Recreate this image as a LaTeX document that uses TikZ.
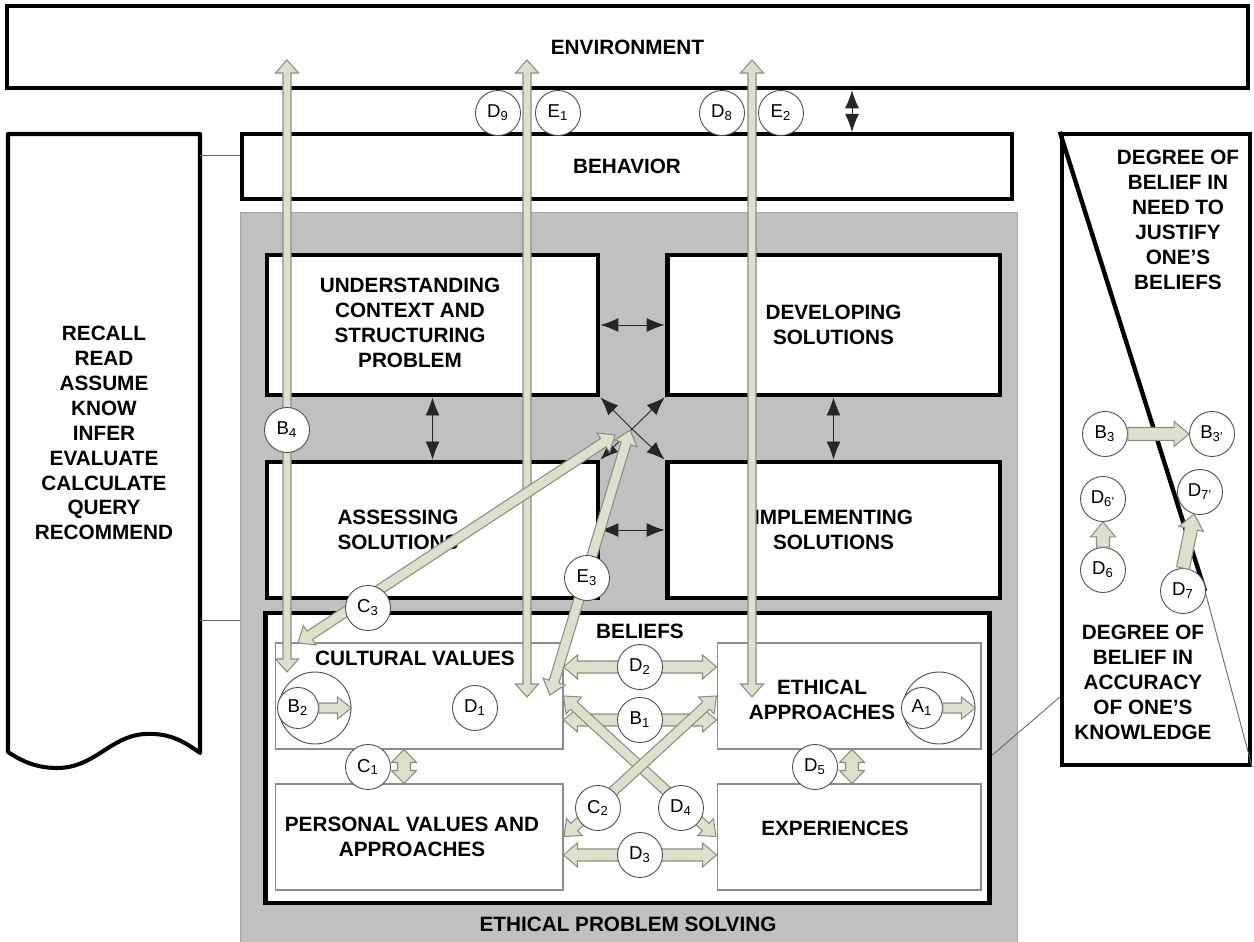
\documentclass[tikz,border=0pt]{standalone}
\usepackage{fontspec}
\setmainfont{Liberation Sans}
\usetikzlibrary{arrows.meta,calc}
\definecolor{shade}{HTML}{C0C0C0}
\definecolor{pale}{HTML}{DDE0CB}
\definecolor{rim}{HTML}{8C8E80}

\newcommand\fatgeom[2]{%
  \path let \p1=($(#2)-(#1)$) in \pgfextra{%
    \pgfmathsetmacro\tmpang{atan2(\y1,\x1)}\xdef\ArrAng{\tmpang}%
    \pgfmathsetmacro\tmplen{veclen(\x1,\y1)}\xdef\ArrLen{\tmplen}};}
% #1 shaft half width, #2 head half width, #3 head length, #4 from, #5 to
\newcommand\fatdbl[5]{\fatgeom{#4}{#5}%
  \draw[fatarr,shift={(#4)},rotate=\ArrAng] (0,0) -- (#3,#2) -- (#3,#1) -- ({\ArrLen pt-#3},#1) -- ({\ArrLen pt-#3},#2) -- (\ArrLen pt,0)
    -- ({\ArrLen pt-#3},-#2) -- ({\ArrLen pt-#3},-#1) -- (#3,-#1) -- (#3,-#2) -- cycle;}
\newcommand\fatone[5]{\fatgeom{#4}{#5}%
  \draw[fatarr,shift={(#4)},rotate=\ArrAng] (0,#1) -- ({\ArrLen pt-#3},#1) -- ({\ArrLen pt-#3},#2) -- (\ArrLen pt,0)
    -- ({\ArrLen pt-#3},-#2) -- ({\ArrLen pt-#3},-#1) -- (0,-#1) -- cycle;}

\begin{document}
\begin{tikzpicture}[x=0.02cm,y=-0.02cm,>={Latex[length=0.36cm,width=0.28cm]},
 txt/.style={font=\fontsize{11.8}{14.2}\selectfont\bfseries,align=center,inner sep=0pt},
 frame/.style={draw,line width=2.8pt,fill=white,inner sep=0pt},
 sub/.style={draw=black!45,line width=0.6pt,fill=white,inner sep=0pt,minimum width=5.76cm,minimum height=2.12cm},
 tag/.style={circle,draw=black!70,line width=0.5pt,fill=white,minimum size=0.9cm,inner sep=0pt,font=\fontsize{10.6}{12}\selectfont},
 ring/.style={circle,draw=black!70,line width=0.5pt,inner sep=0pt},
 thin/.style={draw=black!60,line width=0.5pt},
 link/.style={black!85,line width=0.5pt},
 fatarr/.style={draw=rim,fill=pale,line width=0.6pt,line join=miter}]
 \useasboundingbox (0,0) rectangle (1254,942);
 \node[fill=shade,draw=black!35,line width=0.5pt,minimum width=15.54cm,minimum height=14.8cm,anchor=north west,inner sep=0pt] (eps) at (240,212) {};
 \node[frame,txt,line width=2.6pt,minimum width=24.82cm,minimum height=1.64cm] (env) at (627.5,47) {ENVIRONMENT};
 \node[frame,txt,line width=2.4pt,minimum width=15.4cm,minimum height=1.3cm] (beh) at (627,166.5) {BEHAVIOR};
 \draw[line width=2.3pt,fill=white,line join=round] (8,752) -- (8,134) -- (200,134) -- (200,753) .. controls (180,738) and (165,733) .. (145,734) .. controls (110,736) and (95,768) .. (57,768) .. controls (35,768) and (20,760) .. (8,752) -- cycle;
 \node[txt] (verbs) at (104,433) {RECALL\\READ\\ASSUME\\KNOW\\INFER\\EVALUATE\\CALCULATE\\QUERY\\RECOMMEND};
 \coordinate (docA) at (200,155);
 \coordinate (docB) at (200,620);
 \draw[thin] (docA) -- (docA -| beh.west);
 \draw[thin] (docB) -- (docB -| eps.west);
 \node[frame,line width=2.5pt,minimum width=3.76cm,minimum height=12.62cm] (rp) at (1156,449.5) {};
 \coordinate (kink) at (1205,591);
 \draw[line width=2.5pt] (rp.north west) -- (kink);
 \draw[thin] (kink) -- (rp.south east);
 \node[txt] (needtxt) at (1178,220) {DEGREE OF\\BELIEF IN\\NEED TO\\JUSTIFY\\ONE’S\\BELIEFS};
 \node[txt] (acctxt) at (1143,682) {DEGREE OF\\BELIEF IN\\ACCURACY\\OF ONE’S\\KNOWLEDGE};

 \node[frame,minimum width=6.62cm,minimum height=2.8cm] (und) at (432.5,325) {};
 \node[txt] (undtxt) at (410,323) {UNDERSTANDING\\CONTEXT AND\\STRUCTURING\\PROBLEM};
 \node[frame,txt,minimum width=6.66cm,minimum height=2.8cm] (dev) at (833.5,325) {DEVELOPING\\SOLUTIONS};
 \node[frame,minimum width=6.62cm,minimum height=2.72cm] (ass) at (432.5,530) {};
 \node[txt] (asstxt) at (398,530) {ASSESSING\\SOLUTIONS};
 \node[frame,txt,minimum width=6.66cm,minimum height=2.72cm] (imp) at (833.5,530) {IMPLEMENTING\\SOLUTIONS};
 \node[frame,minimum width=14.5cm,minimum height=5.8cm] (bel) at (627.5,758) {};
 \node[txt] (beltxt) at (640,631) {BELIEFS};
 \node[sub] (cv) at (419,696) {};
 \node[sub,minimum width=5.28cm] (ea) at (849,696) {};
 \node[sub] (pv) at (419,837) {};
 \node[sub,minimum width=5.28cm] (ex) at (849,837) {};
 \node[txt] (cvtxt) at (415,658) {CULTURAL VALUES};
 \node[txt] (eatxt) at (822,700) {ETHICAL\\APPROACHES};
 \node[txt] (pvtxt) at (412,837) {PERSONAL VALUES AND\\APPROACHES};
 \node[txt] (extxt) at (835,828) {EXPERIENCES};
 \node[txt] (epstxt) at (628,924) {ETHICAL PROBLEM SOLVING};
 \draw[thin] (bel.east |- 0,755) -- (rp.west |- 0,697);

 \coordinate (envbeh) at (852,0);
 \draw[link,<->] (env.south -| envbeh) -- (beh.north -| envbeh);
 \draw[link,<->] (und.east) -- (dev.west);
 \draw[link,<->] (und.south) -- (ass.north);
 \draw[link,<->] (dev.south) -- (imp.north);
 \draw[link,<->] (ass.east) -- (imp.west);
 \coordinate (hub) at (632,429);
 \foreach \c in {und.south east,dev.south west,ass.north east,imp.north west}
  \draw[link,->] (hub) -- (\c);

 \coordinate (up1) at (287,60);
 \coordinate (dn1) at (287,672);
 \coordinate (up2) at (527,60);
 \coordinate (dn2) at (527,697);
 \coordinate (up3) at (752,60);
 \coordinate (dn3) at (752,697);
 \coordinate (c3lo) at (298,643);
 \coordinate (c3hi) at (615,435);
 \coordinate (e3lo) at (550,695);
 \coordinate (e3hi) at (630,430);
 \coordinate (c1x) at (404,767);
 \coordinate (d5x) at (852,767);
 \fatdbl{0.08cm}{0.23cm}{0.26cm}{up1}{dn1}
 \fatdbl{0.08cm}{0.23cm}{0.26cm}{up2}{dn2}
 \fatdbl{0.08cm}{0.23cm}{0.26cm}{up3}{dn3}
 \fatdbl{0.1cm}{0.23cm}{0.28cm}{c3lo}{c3hi}
 \fatdbl{0.1cm}{0.23cm}{0.28cm}{e3lo}{e3hi}
 \fatdbl{0.12cm}{0.24cm}{0.28cm}{cv.east |- 0,667}{ea.west |- 0,667}
 \fatdbl{0.12cm}{0.24cm}{0.28cm}{cv.east |- 0,720}{ea.west |- 0,720}
 \fatdbl{0.12cm}{0.24cm}{0.28cm}{pv.east |- 0,855}{ex.west |- 0,855}
 \fatdbl{0.1cm}{0.23cm}{0.28cm}{cv.east}{ex.west}
 \fatdbl{0.1cm}{0.23cm}{0.28cm}{ea.west}{pv.east}
 \fatdbl{0.13cm}{0.25cm}{0.26cm}{cv.south -| c1x}{pv.north -| c1x}
 \fatdbl{0.13cm}{0.25cm}{0.26cm}{ea.south -| d5x}{ex.north -| d5x}

 \node[ring,fill=white,minimum size=1.44cm] (b2ring) at (315,708) {};
 \node[ring,fill=white,minimum size=1.44cm] (a1ring) at (939,708) {};
 \foreach \nm/\px/\py/\lt/\ls in {d9/498/113/D/9,e1/558/113/E/1,d8/722/113/D/8,e2/781/113/E/2,
   b4/287/430/B/4,e3/587/578/E/3,c3/368/608/C/3,d2/640/667/D/2,b1/640/720/B/1,d1/475/708/D/1,
   c1/368/767/C/1,d5/815/767/D/5,c2/598/808/C/2,d4/681/808/D/4,d3/640/855/D/3,
   b3/1105/434/B/3,b3p/1212/434/B/3',d6p/1103/499/D/6',d7p/1200/492/D/7',d6/1103/570/D/6,d7/1183/591/D/7}
  \node[tag] (\nm) at (\px,\py) {\lt\textsubscript{\ls}};
 \node[tag,minimum size=0.82cm] (b2) at (298,708) {B\textsubscript{2}};
 \node[tag,minimum size=0.82cm] (a1) at (922,708) {A\textsubscript{1}};
 \fatone{0.1cm}{0.22cm}{0.28cm}{b2.east}{b2ring.east}
 \fatone{0.1cm}{0.22cm}{0.28cm}{a1.east}{a1ring.east}
 \fatone{0.13cm}{0.25cm}{0.3cm}{b3.east}{b3p.west}
 \fatone{0.13cm}{0.25cm}{0.3cm}{d6.north}{d6p.south}
 \fatone{0.13cm}{0.25cm}{0.3cm}{d7.north}{d7p.255}
\end{tikzpicture}
\end{document}
